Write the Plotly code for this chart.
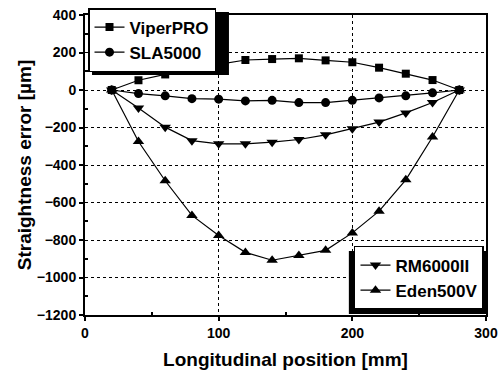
import plotly.graph_objects as go

x_pos = [20, 40, 60, 80, 100, 120, 140, 160, 180, 200, 220, 240, 260, 280]
viperpro = [0, 52, 83, 119, 137, 160, 165, 169, 158, 148, 119, 87, 53, 0]
sla5000 = [0, -19, -31, -46, -49, -58, -55, -67, -67, -55, -42, -31, -15, 0]
rm6000ii = [0, -96, -198, -270, -287, -287, -278, -264, -239, -207, -171, -122, -67, 0]
eden500v = [0, -275, -484, -669, -776, -866, -908, -883, -855, -762, -646, -479, -251, 0]

series = [
    ("ViperPRO", viperpro, "square", 8, "legend"),
    ("SLA5000", sla5000, "circle", 9, "legend"),
    ("RM6000II", rm6000ii, "triangle-down", 10, "legend2"),
    ("Eden500V", eden500v, "triangle-up", 10, "legend2"),
]

fig = go.Figure()
for name, vals, sym, sz, leg in series:
    fig.add_trace(go.Scatter(
        x=x_pos, y=vals, name=name, mode="lines+markers",
        line=dict(color="black", width=1.2),
        marker=dict(symbol=sym, size=sz, color="black"),
        legend=leg,
    ))

FAM = "Liberation Sans"
leg_font = dict(family=FAM, size=17, color="black", weight="bold")
tick_font = dict(family=FAM, size=14, color="black", weight="bold")
title_font = dict(family=FAM, size=19, color="black", weight="bold")

shadow = dict(type="rect", xref="paper", yref="paper", fillcolor="black",
              line=dict(width=0), layer="above")

fig.update_layout(
    width=499, height=370,
    margin=dict(l=85, r=13, t=15, b=55, autoexpand=False),
    paper_bgcolor="white", plot_bgcolor="white",
    font=dict(family=FAM, color="black"),
    legend=dict(x=0.0075, y=1.0233, xanchor="left", yanchor="top",
                bgcolor="white", bordercolor="black", borderwidth=1.5,
                font=leg_font, tracegroupgap=0, itemwidth=30),
    legend2=dict(x=0.995, y=0.0167, xanchor="right", yanchor="bottom",
                 bgcolor="white", bordercolor="black", borderwidth=1.5,
                 font=leg_font, tracegroupgap=0, itemwidth=30),
    shapes=[
        dict(shadow, x0=0.0175, x1=0.359, y0=0.80, y1=1.01),
        dict(shadow, x0=0.658, x1=1.005, y0=0.0033, y1=0.213),
    ],
)

fig.update_xaxes(
    range=[0, 300], tickvals=[0, 100, 200, 300],
    showline=True, linecolor="black", linewidth=2, mirror=True,
    ticks="outside", ticklen=4, tickwidth=2, tickcolor="black",
    tickfont=tick_font, ticklabeloverflow="allow",
    showgrid=True, gridcolor="black", griddash="dot", gridwidth=1,
    zeroline=False, automargin=False,
    minor=dict(tickvals=[50, 150, 250], ticks="inside", ticklen=3, tickcolor="black", showgrid=False),
    title=dict(text="Longitudinal position [mm]", font=title_font, standoff=17),
)
fig.update_yaxes(
    range=[-1200, 400], tickvals=[-1200, -1000, -800, -600, -400, -200, 0, 200, 400],
    showline=True, linecolor="black", linewidth=2, mirror=True,
    ticks="outside", ticklen=4, tickwidth=2, tickcolor="black",
    tickfont=tick_font, ticklabeloverflow="allow",
    showgrid=True, gridcolor="black", griddash="dot", gridwidth=1,
    zeroline=False, automargin=False,
    minor=dict(tickvals=[-1100, -900, -700, -500, -300, -100, 100, 300], ticks="inside", ticklen=3, tickcolor="black", showgrid=False),
    title=dict(text="Straightness error [µm]", font=title_font, standoff=0),
)

fig.write_html(
    "out.html",
    config={"displayModeBar": False},
    post_script="document.body.style.margin='0';document.body.style.overflow='hidden';",
)
